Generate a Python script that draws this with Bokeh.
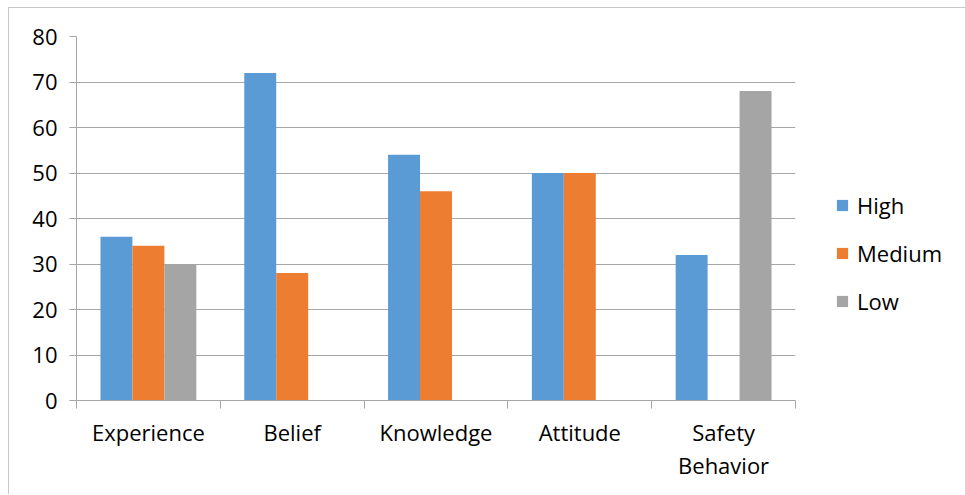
from bokeh.plotting import figure
from bokeh.models import ColumnDataSource, Range1d, FixedTicker, Legend, LegendItem
from bokeh.embed import file_html
from bokeh.resources import INLINE

categories = ["Experience", "Belief", "Knowledge", "Attitude", "Safety Behavior"]
cat_labels = ["Experience", "Belief", "Knowledge", "Attitude", "Safety\nBehavior"]
high = [36, 72, 54, 50, 32]
medium = [34, 28, 46, 50, 0]
low = [30, 0, 0, 0, 68]
series = [("High", high, "#5b9bd5"), ("Medium", medium, "#ed7d31"), ("Low", low, "#a5a5a5")]
y_ticks = [0, 10, 20, 30, 40, 50, 60, 70, 80]

FONT = "Open Sans"
FS = "22px"
GRID = "#a6a6a6"

p = figure(frame_width=719, frame_height=364, output_backend="svg", toolbar_location=None,
           x_range=Range1d(0, 5), y_range=Range1d(0, 80),
           min_border_left=67, min_border_right=0, min_border_top=28, min_border_bottom=94)
p.styles = {"margin-left": "8px", "margin-top": "7px",
            "border-left": "1px solid #c8c8c8", "border-top": "1px solid #c8c8c8"}
p.outline_line_color = None
p.xgrid.grid_line_color = None
p.ygrid.grid_line_color = GRID
p.ygrid.ticker = FixedTicker(ticks=y_ticks)

bw = 2.0 / 9.0
offsets = [-bw, 0.0, bw]
renderers = []
for (name, vals, color), off in zip(series, offsets):
    src = ColumnDataSource(dict(x=[i + 0.5 + off for i in range(len(categories))], top=vals))
    r = p.vbar(x="x", top="top", bottom=0, width=bw, source=src, fill_color=color,
               line_color=None)
    renderers.append((name, r))

# y axis
p.yaxis.ticker = FixedTicker(ticks=y_ticks)
p.yaxis.axis_line_color = GRID
p.yaxis.major_tick_line_color = GRID
p.yaxis.major_tick_out = 7
p.yaxis.major_tick_in = 0
p.yaxis.minor_tick_line_color = None
p.yaxis.major_label_standoff = 12
p.yaxis.major_label_text_font = FONT
p.yaxis.major_label_text_font_size = FS
p.yaxis.major_label_text_color = "#000000"

# x axis
p.xaxis.ticker = FixedTicker(ticks=[i + 0.5 for i in range(5)], minor_ticks=[0, 1, 2, 3, 4, 5])
p.xaxis.major_label_overrides = {i + 0.5: lab for i, lab in enumerate(cat_labels)}
p.xaxis.axis_line_color = GRID
p.xaxis.major_tick_line_color = None
p.xaxis.minor_tick_line_color = GRID
p.xaxis.minor_tick_out = 8
p.xaxis.minor_tick_in = 0
p.xaxis.major_label_standoff = 8
p.xaxis.major_label_text_font = FONT
p.xaxis.major_label_text_font_size = FS
p.xaxis.major_label_text_line_height = 1.1
p.xaxis.major_label_text_color = "#000000"

legend = Legend(items=[LegendItem(label=n, renderers=[r]) for n, r in renderers],
                location=(40, 84), orientation="vertical")
legend.border_line_color = None
legend.background_fill_alpha = 0
legend.padding = 0
legend.margin = 0
legend.spacing = 18
legend.glyph_width = 14
legend.glyph_height = 14
legend.label_height = 20
legend.label_standoff = 8
legend.label_text_font = FONT
legend.label_text_font_size = FS
legend.label_text_color = "#000000"
p.add_layout(legend, "right")

open("out.html", "w").write(file_html(p, INLINE))
